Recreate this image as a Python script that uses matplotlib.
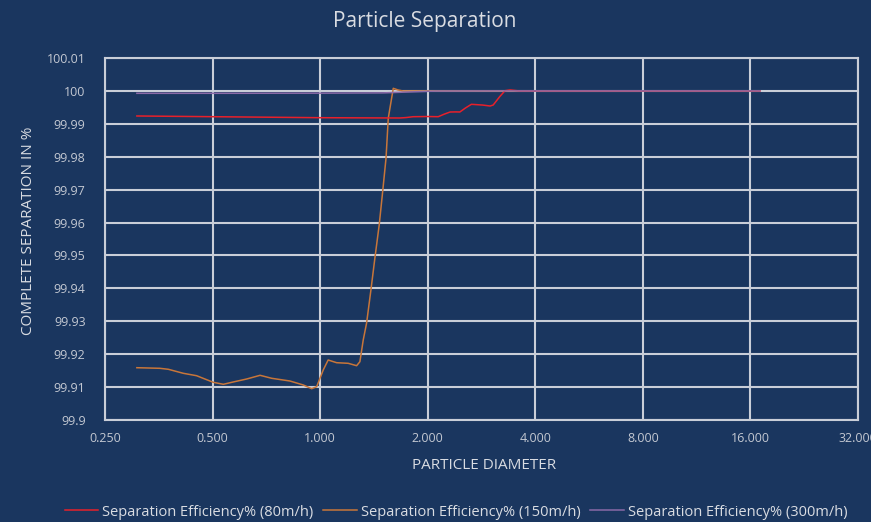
import numpy as np
import matplotlib.pyplot as plt
from matplotlib.ticker import FixedLocator, FixedFormatter

# particle diameter vs separation efficiency
d_80 = [0.307, 1.0, 1.67, 1.74, 1.82, 2.00, 2.14, 2.22, 2.31, 2.40, 2.46, 2.55, 2.65, 2.85, 2.99,
        3.05, 3.18, 3.29, 3.40, 3.6, 5.0, 10.0, 17.0]
e_80 = [99.99238, 99.99186, 99.99177, 99.99190, 99.99216, 99.99222, 99.99216, 99.9929, 99.99359, 99.99362,
        99.99359, 99.9948, 99.99593, 99.9957, 99.99541, 99.99572, 99.99824, 100.00006, 100.0003, 100.0,
        100.0, 100.0, 100.0]

d_150 = [0.307, 0.356, 0.376, 0.414, 0.451, 0.502, 0.536, 0.571, 0.623, 0.679, 0.732, 0.823, 0.897, 0.947,
         0.978, 1.020, 1.053, 1.112, 1.198, 1.265, 1.292, 1.320, 1.349, 1.387, 1.423, 1.463, 1.496, 1.529,
         1.551, 1.602, 1.65, 1.705, 3.0, 8.0, 17.0]
e_150 = [99.91589, 99.91571, 99.91541, 99.91419, 99.91346, 99.91146, 99.91085, 99.91155, 99.91246, 99.91358,
         99.91267, 99.91185, 99.91064, 99.90951, 99.91012, 99.91519, 99.91823, 99.91741, 99.91723, 99.91650,
         99.91772, 99.92431, 99.92947, 99.93949, 99.94922, 99.95925, 99.96937, 99.97961, 99.99168, 100.00079,
         100.0003, 99.99997, 100.0, 100.0, 100.0]

d_300 = [0.307, 0.60, 1.00, 1.50, 1.80, 2.10, 3.0, 8.0, 17.0]
e_300 = [99.99927, 99.99928, 99.99932, 99.9994, 99.9997, 99.99995, 100.0, 100.0, 100.0]

x_ticks = [0.25, 0.5, 1, 2, 4, 8, 16, 32]
x_labels = ['0.250', '0.500', '1.000', '2.000', '4.000', '8.000', '16.000', '32.000']
y_ticks = [99.9, 99.91, 99.92, 99.93, 99.94, 99.95, 99.96, 99.97, 99.98, 99.99, 100, 100.01]
y_labels = ['99.9', '99.91', '99.92', '99.93', '99.94', '99.95', '99.96', '99.97', '99.98', '99.99', '100', '100.01']

bg = '#1a365f'
grid_c = '#c9ced8'
txt_c = '#d9dce2'
tick_c = '#c3c8d2'
plt.rcParams['font.family'] = ['Open Sans', 'DejaVu Sans']

fig = plt.figure(figsize=(8.71, 5.22), dpi=100, facecolor=bg)
ax = fig.add_axes([105 / 871, 1 - 420 / 522, 753 / 871, 362 / 522])
ax.set_facecolor(bg)

ax.plot(d_80, e_80, color='#e8202a', lw=1.1, label='Separation Efficiency% (80m/h)', zorder=3)
ax.plot(d_150, e_150, color='#c8763a', lw=1.1, label='Separation Efficiency% (150m/h)', zorder=2)
ax.plot(d_300, e_300, color='#8a6aa8', lw=1.1, label='Separation Efficiency% (300m/h)', zorder=4)

ax.set_xscale('log', base=2)
ax.set_xlim(0.25, 32)
ax.set_ylim(99.9, 100.01)
ax.xaxis.set_major_locator(FixedLocator(x_ticks))
ax.xaxis.set_major_formatter(FixedFormatter(x_labels))
ax.xaxis.set_minor_locator(FixedLocator([]))
ax.yaxis.set_major_locator(FixedLocator(y_ticks))
ax.yaxis.set_major_formatter(FixedFormatter(y_labels))
ax.grid(True, color=grid_c, lw=1.5, zorder=0)
ax.set_axisbelow(True)
for s in ax.spines.values():
    s.set_color(grid_c)
    s.set_linewidth(1.5)
ax.tick_params(length=0, colors=tick_c, labelsize=9)
ax.tick_params(axis='y', pad=14)
ax.tick_params(axis='x', pad=9)

ax.set_xlabel('PARTICLE DIAMETER', color=txt_c, fontsize=11)
ax.set_ylabel('COMPLETE SEPARATION IN %', color=txt_c, fontsize=11)
ax.xaxis.set_label_coords(0.503, -0.105)
ax.yaxis.set_label_coords(-0.0916, 0.522)
fig.text(425 / 871, 1 - 21 / 522, 'Particle Separation', color=txt_c, fontsize=15, ha='center', va='center')

fig.legend(loc='center', bbox_to_anchor=(456 / 871, 1 - 512 / 522), ncol=3, frameon=False,
           fontsize=10.5, labelcolor=txt_c, handlelength=2.3, handletextpad=0.25, columnspacing=0.7)

fig.savefig('out.png', dpi=100, facecolor=bg)
